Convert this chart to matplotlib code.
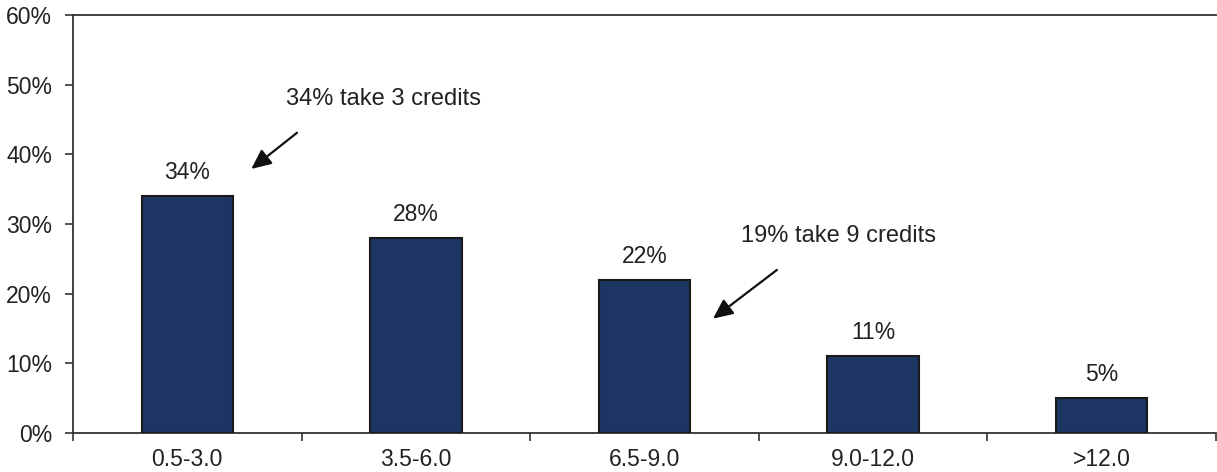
import matplotlib.pyplot as plt
import numpy as np
from matplotlib.ticker import FixedLocator, PercentFormatter

plt.rcParams["font.family"] = ["Liberation Sans", "DejaVu Sans"]

categories = ["0.5-3.0", "3.5-6.0", "6.5-9.0", "9.0-12.0", ">12.0"]
shares = [34, 28, 22, 11, 5]

notes = ["34% take 3 credits", "19% take 9 credits"]
note_text_xy = [(0.86, 47.9), (2.85, 28.3)]
note_tail_xy = [(0.48, 43.1), (2.58, 23.4)]
note_head_xy = [(0.28, 37.9), (2.30, 16.4)]

bar_color = "#1d3563"
axis_color = "#333333"
text_color = "#222222"

fig = plt.figure(figsize=(12.17, 4.72), dpi=100)
ax = fig.add_axes([0.060, 0.083, 0.939, 0.885])

x = np.arange(len(categories))
ax.bar(x, shares, width=0.4, color=bar_color, edgecolor="#1a1a1a", linewidth=1.5, zorder=3)

# value labels above bars
for xi, v in zip(x, shares):
    ax.annotate(f"{v}%", (xi, v), xytext=(0, 17), textcoords="offset points",
                ha="center", va="center", fontsize=16.5, color=text_color)

# callouts with arrows
for txt, txy, tail, head in zip(notes, note_text_xy, note_tail_xy, note_head_xy):
    ax.text(txy[0], txy[1], txt, ha="center", va="center", fontsize=17, color=text_color)
    ax.annotate("", xy=head, xytext=tail,
                arrowprops=dict(arrowstyle="-|>,head_length=1.2,head_width=0.55",
                                color="#111111", lw=1.6, shrinkA=0, shrinkB=0))

ax.set_xlim(-0.5, len(categories) - 0.5)
ax.set_ylim(0, 60)
ax.yaxis.set_major_locator(FixedLocator(np.arange(0, 61, 10)))
ax.yaxis.set_major_formatter(PercentFormatter(decimals=0))

ax.set_xticks(x)
ax.set_xticklabels(categories)
ax.xaxis.set_minor_locator(FixedLocator(np.arange(-0.5, len(categories), 1.0)))
ax.tick_params(axis="x", which="major", length=0, pad=11, labelsize=16.5, labelcolor=text_color)
ax.tick_params(axis="x", which="minor", length=6, width=1.2, color=axis_color)
ax.tick_params(axis="y", length=6, width=1.2, color=axis_color, labelsize=16.5,
               labelcolor=text_color, pad=9)

for side in ("left", "bottom", "top"):
    ax.spines[side].set_color(axis_color)
    ax.spines[side].set_linewidth(1.3)
ax.spines["right"].set_visible(False)

fig.savefig("out.png", dpi=100)
